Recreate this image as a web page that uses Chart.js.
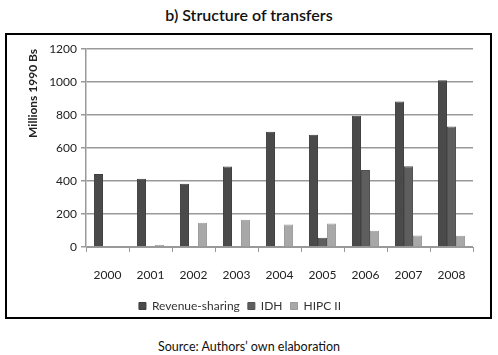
<!DOCTYPE html>
<html>
<head>
<meta charset="utf-8">
<script src="https://cdn.jsdelivr.net/npm/chart.js@4"></script>
<style>
  html,body{margin:0;padding:0;background:#fff;width:498px;height:355px;overflow:hidden;}
  #title{position:absolute;left:0;top:5px;width:498px;text-align:center;font-family:Lato,"Open Sans",sans-serif;font-size:16px;font-weight:600;color:#111;}
  #box{position:absolute;left:5px;top:33px;width:483px;height:282px;border:2px solid #000;}
  #src{position:absolute;left:0;top:339px;width:498px;text-align:center;font-family:Lato,"Open Sans",sans-serif;font-size:12.5px;color:#111;}
  canvas{display:block;}
</style>
</head>
<body>
<div id="title">b) Structure of transfers</div>
<div id="box"><canvas id="c" width="483" height="282"></canvas></div>
<div id="src">Source: Authors’ own elaboration</div>
<script>
const categories = ['2000','2001','2002','2003','2004','2005','2006','2007','2008'];
const revenueSharing = [442, 414, 383, 488, 698, 680, 795, 882, 1010];
const idh = [0, 0, 0, 0, 0, 56, 467, 490, 730];
const hipc = [0, 12, 147, 165, 137, 142, 98, 70, 68];
const yTicks = [0, 200, 400, 600, 800, 1000, 1200];

const fam = 'Lato, "Open Sans", sans-serif';
const font = {family: fam, size: 12};
new Chart(document.getElementById('c'), {
  type: 'bar',
  data: {
    labels: categories,
    datasets: [
      {label: 'Revenue-sharing', data: revenueSharing, backgroundColor: '#4a4a4a', borderColor: '#3e3e3e', borderWidth: 1},
      {label: 'IDH', data: idh, backgroundColor: '#5e5e5e', borderColor: '#525252', borderWidth: 1},
      {label: 'HIPC II', data: hipc, backgroundColor: '#a8a8a8', borderColor: '#9c9c9c', borderWidth: 1}
    ]
  },
  options: {
    responsive: false,
    animation: false,
    layout: {padding: {left: 0, right: 17, top: 14, bottom: -5}},
    datasets: {bar: {categoryPercentage: 0.63, barPercentage: 1.0}},
    plugins: {
      legend: {
        position: 'bottom',
        labels: {boxWidth: 7, boxHeight: 7, color: '#333', font: {family: fam, size: 12}, padding: 8}
      },
      tooltip: {enabled: false}
    },
    scales: {
      x: {
        offset: true,
        grid: {offset: true, drawOnChartArea: false, drawTicks: true, tickLength: 5, color: '#999', lineWidth: 1},
        border: {color: '#999', width: 1},
        ticks: {color: '#222', font: font, padding: 16, maxRotation: 0},
        afterFit(s){ s.height = 45; }
      },
      y: {
        min: 0, max: 1200,
        afterBuildTicks(s){ s.ticks = yTicks.map(v => ({value: v})); },
        grid: {color: '#999', lineWidth: 1.5, tickLength: 5},
        border: {color: '#999', width: 1.5},
        ticks: {color: '#222', font: font, padding: 4, callback: v => String(v)},
        title: {display: true, align: 'end', text: 'Millions 1990 Bs', color: '#222', font: {family: fam, size: 12, weight: 'bold'}, padding: {top: 19, bottom: 0}},
        afterFit(s){ s.width = 79; }
      }
    }
  }
});
</script>
</body>
</html>
